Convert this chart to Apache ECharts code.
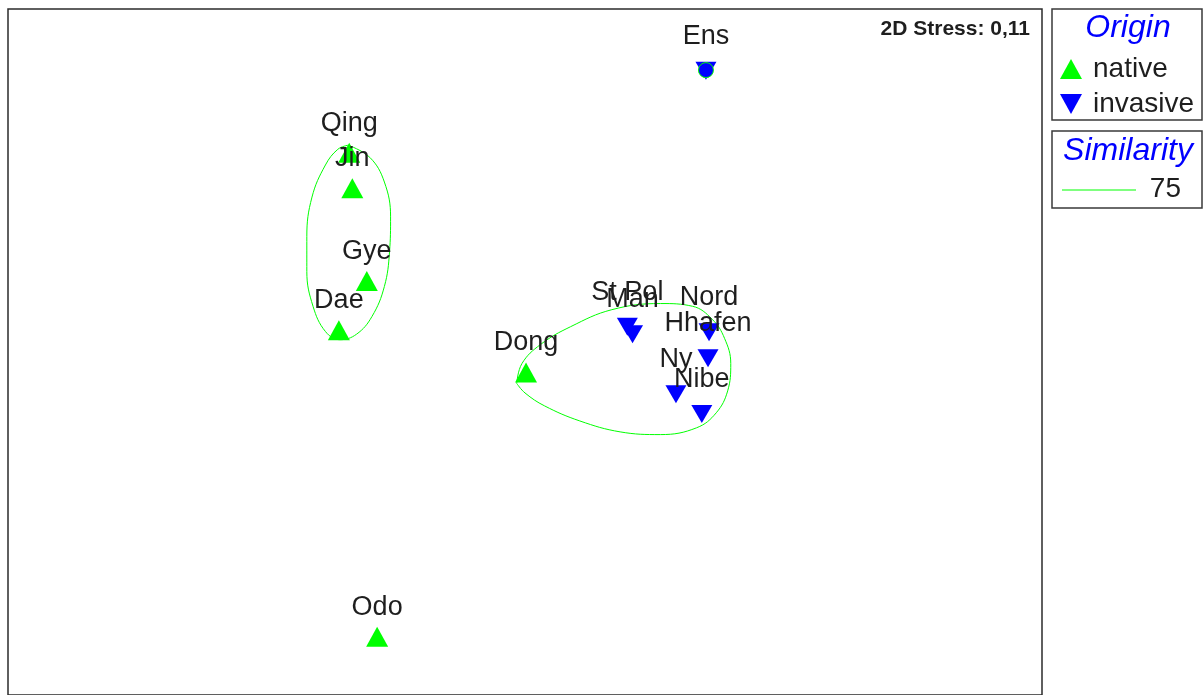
<!DOCTYPE html>
<html>
<head>
<meta charset="utf-8">
<script src="https://cdn.jsdelivr.net/npm/echarts@6/dist/echarts.min.js"></script>
<style>
  html, body { margin: 0; padding: 0; background: #fff; }
  #chart--mds { width: 1204px; height: 695px; }
</style>
</head>
<body>
<div id="chart--mds"></div>
<script>
;
(() => {
    // MDS ordination (arbitrary units)
    const sampleNames = ['Ens', 'Qing', 'Jin', 'Gye', 'Dae', 'Dong', 'Odo', 'St Pol', 'Man', 'Nord', 'Hhafen', 'Ny', 'Nibe'];
    const sampleX = [67.5, 33.0, 33.3, 34.7, 32.0, 50.1, 35.7, 59.9, 60.4, 67.8, 67.7, 64.6, 67.1];
    const sampleY = [91.4, 79.4, 74.2, 60.6, 53.4, 47.2, 8.5, 53.9, 52.8, 53.1, 49.3, 44.0, 41.1];
    const sampleOrigin = ['invasive', 'native', 'native', 'native', 'native', 'native', 'native', 'invasive', 'invasive', 'invasive', 'invasive', 'invasive', 'invasive'];

    // 75 % similarity contours
    const contourAX = [32.9, 35.0, 36.4, 37.0, 36.9, 36.4, 35.2, 33.7, 32.1, 30.7, 29.5, 28.9, 28.9, 29.4, 30.7, 31.9, 32.9];
    const contourAY = [80.5, 78.7, 75.1, 70.0, 64.9, 59.8, 55.4, 52.8, 52.0, 53.2, 56.9, 62.0, 67.1, 72.9, 77.6, 79.9, 80.5];
    const contourBX = [49.2, 49.7, 51.5, 54.4, 58.4, 63.1, 66.2, 68.1, 69.3, 69.9, 69.6, 68.5, 66.6, 63.1, 59.2, 55.3, 51.9, 50.0, 49.2];
    const contourBY = [45.6, 48.5, 51.3, 53.9, 56.4, 57.3, 56.9, 55.0, 52.2, 48.5, 44.5, 41.3, 39.1, 38.1, 38.5, 40.1, 42.3, 44.2, 45.6];
    const singleContourName = 'Ens';

    const fontFamily = '"Liberation Sans", Arial, sans-serif';
    const green = '#00ff00';
    const blue = '#0000ff';
    const textColor = '#1e1e1e';
    const downTriangle = 'path://M0,0 L10,0 L5,9 Z';

    function pointsFor(origin) {
        const points = [];
        sampleNames.forEach((name, index) => {
            if (sampleOrigin[index] === origin) {
                points.push({ name, value: [sampleX[index], sampleY[index]] });
            }
        });
        return points;
    }
    function contourData(xs, ys) {
        return xs.map((x, index) => [x, ys[index]]);
    }
    function labelStyle(distance) {
        return {
            show: true,
            position: 'top',
            distance,
            formatter: '{b}',
            color: textColor,
            fontSize: 27,
            fontFamily
        };
    }

    const ensIndex = sampleNames.indexOf(singleContourName);

    const chart = echarts.init(document.querySelector('#chart--mds'));
    chart.setOption({
        animation: false,
        grid: {
            left: 8,
            right: 162,
            top: 9,
            bottom: -3,
            show: true,
            borderColor: '#2b2b2b',
            borderWidth: 1.5
        },
        xAxis: {
            type: 'value',
            min: 0,
            max: 100,
            show: false
        },
        yAxis: {
            type: 'value',
            min: -0.05,
            max: 100.45,
            show: false
        },
        series: [
            {
                name: 'contourA',
                type: 'line',
                data: contourData(contourAX, contourAY),
                smooth: 0.4,
                showSymbol: false,
                lineStyle: { color: green, width: 1 },
                z: 1
            },
            {
                name: 'contourB',
                type: 'line',
                data: contourData(contourBX, contourBY),
                smooth: 0.4,
                showSymbol: false,
                lineStyle: { color: green, width: 1 },
                z: 1
            },
            {
                name: 'native',
                type: 'scatter',
                data: pointsFor('native'),
                symbol: 'triangle',
                symbolSize: [22, 20],
                itemStyle: { color: green, opacity: 1 },
                label: labelStyle(6),
                z: 3
            },
            {
                name: 'invasive',
                type: 'scatter',
                data: pointsFor('invasive'),
                symbol: downTriangle,
                symbolSize: [21, 18],
                itemStyle: { color: blue, opacity: 1 },
                label: labelStyle(12),
                z: 3
            },
            {
                name: 'contourSingle',
                type: 'scatter',
                data: [[sampleX[ensIndex], sampleY[ensIndex] + 0.1]],
                symbol: 'circle',
                symbolSize: 15,
                itemStyle: { color: blue, borderColor: green, borderWidth: 1, opacity: 1 },
                z: 4
            }
        ],
        graphic: [
            {
                type: 'text',
                x: 1030,
                y: 29,
                style: {
                    text: '2D Stress: 0,11',
                    fill: textColor,
                    font: `bold 21px ${fontFamily}`,
                    align: 'right',
                    verticalAlign: 'middle'
                }
            },
            {
                type: 'rect',
                shape: { x: 1052, y: 9, width: 150, height: 111 },
                style: { fill: 'none', stroke: '#3a3a3a', lineWidth: 1.5 }
            },
            {
                type: 'text',
                x: 1128,
                y: 28,
                style: {
                    text: 'Origin',
                    fill: blue,
                    font: `italic 32px ${fontFamily}`,
                    align: 'center',
                    verticalAlign: 'middle'
                }
            },
            {
                type: 'rect',
                shape: { x: 1052, y: 131, width: 150, height: 77 },
                style: { fill: 'none', stroke: '#3a3a3a', lineWidth: 1.5 }
            },
            {
                type: 'text',
                x: 1128,
                y: 151,
                style: {
                    text: 'Similarity',
                    fill: blue,
                    font: `italic 32px ${fontFamily}`,
                    align: 'center',
                    verticalAlign: 'middle'
                }
            },
            {
                type: 'line',
                shape: { x1: 1062, y1: 190, x2: 1136, y2: 190 },
                style: { stroke: green, lineWidth: 1 }
            },
            {
                type: 'text',
                x: 1181,
                y: 189,
                style: {
                    text: '75',
                    fill: textColor,
                    font: `28px ${fontFamily}`,
                    align: 'right',
                    verticalAlign: 'middle'
                }
            }
        ],
        legend: {
            data: [
                { name: 'native', icon: 'triangle' },
                { name: 'invasive', icon: downTriangle }
            ],
            orient: 'vertical',
            left: 1055,
            top: 50,
            itemWidth: 22,
            itemHeight: 20,
            itemGap: 7,
            selectedMode: false,
            textStyle: {
                color: textColor,
                fontSize: 28,
                fontFamily,
                padding: [0, 0, 0, 6]
            }
        }
    });
})();
</script>
</body>
</html>
